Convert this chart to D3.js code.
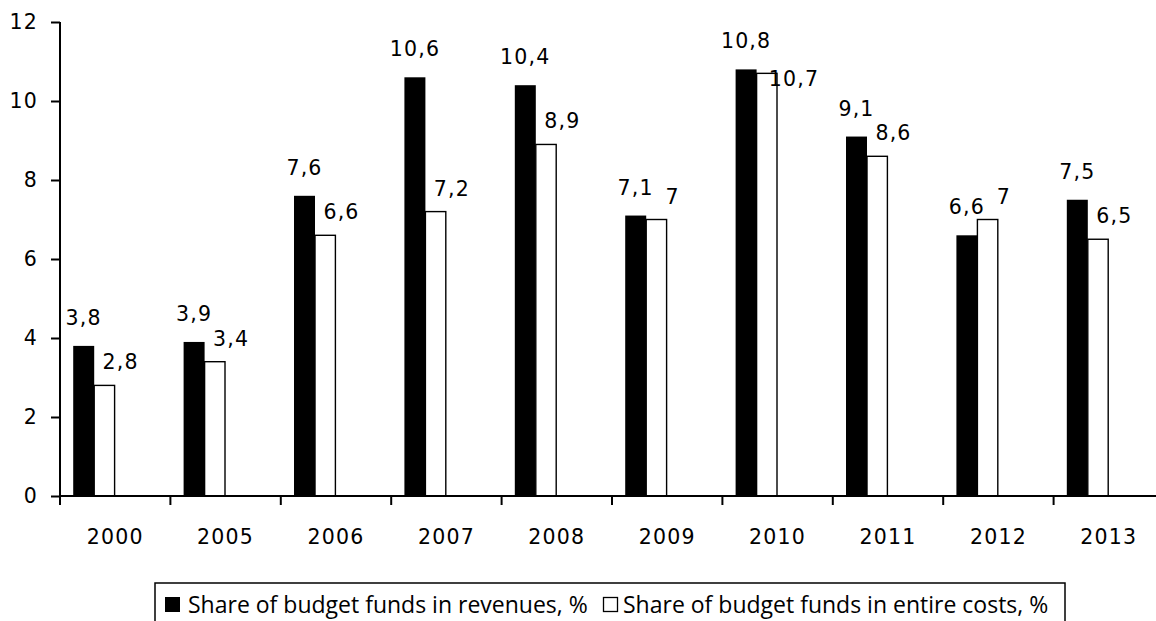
<!DOCTYPE html>
<html>
<head>
<meta charset="utf-8">
<script src="https://cdn.jsdelivr.net/npm/d3@7"></script>
<style>
  html, body { margin: 0; padding: 0; background: #fff; }
  svg { display: block; }
  .num { font-family: "DejaVu Sans", Verdana, sans-serif; font-size: 20.5px; letter-spacing: 1.2px; fill: #000; }
  .legend text { font-family: "Open Sans", "Noto Sans", sans-serif; font-size: 23px; fill: #000; }
</style>
</head>
<body>
<svg id="chart" width="1156" height="621"></svg>
<script>
// Years shown on the category axis
const years = ["2000", "2005", "2006", "2007", "2008", "2009", "2010", "2011", "2012", "2013"];
// Share of budget funds in revenues, %
const revenues = [3.8, 3.9, 7.6, 10.6, 10.4, 7.1, 10.8, 9.1, 6.6, 7.5];
// Share of budget funds in entire costs, %
const costs = [2.8, 3.4, 6.6, 7.2, 8.9, 7.0, 10.7, 8.6, 7.0, 6.5];
// Value axis ticks
const yTicks = [0, 2, 4, 6, 8, 10, 12];
// Legend entries
const seriesNames = ["Share of budget funds in revenues, %", "Share of budget funds in entire costs, %"];

const svg = d3.select("#chart");
const plotLeft = 60, plotTop = 22, plotBottom = 496;
const step = 110.4;

const x0 = d3.scaleBand().domain(years).range([plotLeft, plotLeft + step * years.length]).padding(0);
// each category holds four slots; the two series fill the first two
const x1 = d3.scaleBand().domain([0, 1, 2, 3]).range([0, x0.bandwidth()]).paddingInner(0).paddingOuter(0.629);
const y = d3.scaleLinear().domain([0, 12]).range([plotBottom, plotTop]);

const fmt = v => String(v).replace(".", ",");

// bars
const groups = svg.append("g").selectAll("g").data(years).join("g")
  .attr("transform", d => `translate(${x0(d)},0)`);

groups.append("rect")
  .attr("x", x1(0)).attr("width", x1.bandwidth())
  .attr("y", (d, i) => y(revenues[i])).attr("height", (d, i) => y(0) - y(revenues[i]))
  .attr("fill", "#000");

groups.append("rect")
  .attr("x", x1(1)).attr("width", x1.bandwidth() - 0.6)
  .attr("y", (d, i) => y(costs[i])).attr("height", (d, i) => y(0) - y(costs[i]))
  .attr("fill", "#fff").attr("stroke", "#000").attr("stroke-width", 1.4);

// value labels
const revLabels = groups.append("text").attr("class", "num")
  .attr("text-anchor", "middle")
  .attr("x", x1(0) + x1.bandwidth() / 2)
  .attr("y", (d, i) => y(revenues[i]) - 21)
  .text((d, i) => fmt(revenues[i]));

const costLabels = groups.append("text").attr("class", "num")
  .attr("text-anchor", "middle")
  .attr("x", x1(1) + x1.bandwidth() / 2 + 16)
  .attr("y", (d, i) => y(costs[i]) - 16)
  .text((d, i) => fmt(costs[i]));

// a cost label that would run into its revenue neighbour drops beside the bar top
costLabels.each(function (d, i) {
  const a = revLabels.nodes()[i].getBBox();
  const b = this.getBBox();
  const overlap = a.x < b.x + b.width && b.x < a.x + a.width && a.y < b.y + b.height && b.y < a.y + a.height;
  if (overlap) {
    d3.select(this)
      .attr("x", x1(1) + x1.bandwidth() / 2 + 27)
      .attr("y", y(costs[i]) + 13);
  }
});

// y axis
const yAxis = svg.append("g").attr("transform", `translate(${plotLeft},0)`)
  .call(d3.axisLeft(y).tickValues(yTicks).tickSize(9).tickPadding(13).tickFormat(d3.format("d")));
yAxis.attr("font-size", null).attr("font-family", null);
yAxis.select(".domain").attr("d", `M0,${plotTop}V${plotBottom}`).attr("stroke", "#000").attr("stroke-width", 2);
yAxis.selectAll(".tick line").attr("stroke", "#000").attr("stroke-width", 2);
yAxis.selectAll(".tick text").attr("class", "num");

// x axis: line with ticks on category boundaries
const xg = svg.append("g").attr("transform", `translate(0,${plotBottom})`);
xg.append("line").attr("x1", plotLeft).attr("x2", plotLeft + step * years.length)
  .attr("stroke", "#000").attr("stroke-width", 2);
xg.selectAll("line.tk").data(years).join("line").attr("class", "tk")
  .attr("x1", d => x0(d)).attr("x2", d => x0(d)).attr("y1", 0).attr("y2", 9)
  .attr("stroke", "#000").attr("stroke-width", 2);
xg.selectAll("text").data(years).join("text").attr("class", "num")
  .attr("text-anchor", "middle")
  .attr("x", d => x0(d) + x0.bandwidth() / 2).attr("y", 48)
  .text(d => d);

// legend
const lg = svg.append("g").attr("class", "legend");
lg.append("rect").attr("x", 155).attr("y", 583).attr("width", 910).attr("height", 60)
  .attr("fill", "#fff").attr("stroke", "#000").attr("stroke-width", 1.5);
lg.append("rect").attr("x", 165).attr("y", 597).attr("width", 15).attr("height", 15).attr("fill", "#000");
lg.append("text").attr("x", 188).attr("y", 613).text(seriesNames[0]);
lg.append("rect").attr("x", 603.5).attr("y", 597.5).attr("width", 14).attr("height", 14)
  .attr("fill", "#fff").attr("stroke", "#000").attr("stroke-width", 1.3);
lg.append("text").attr("x", 623).attr("y", 613).text(seriesNames[1]);
</script>
</body>
</html>
